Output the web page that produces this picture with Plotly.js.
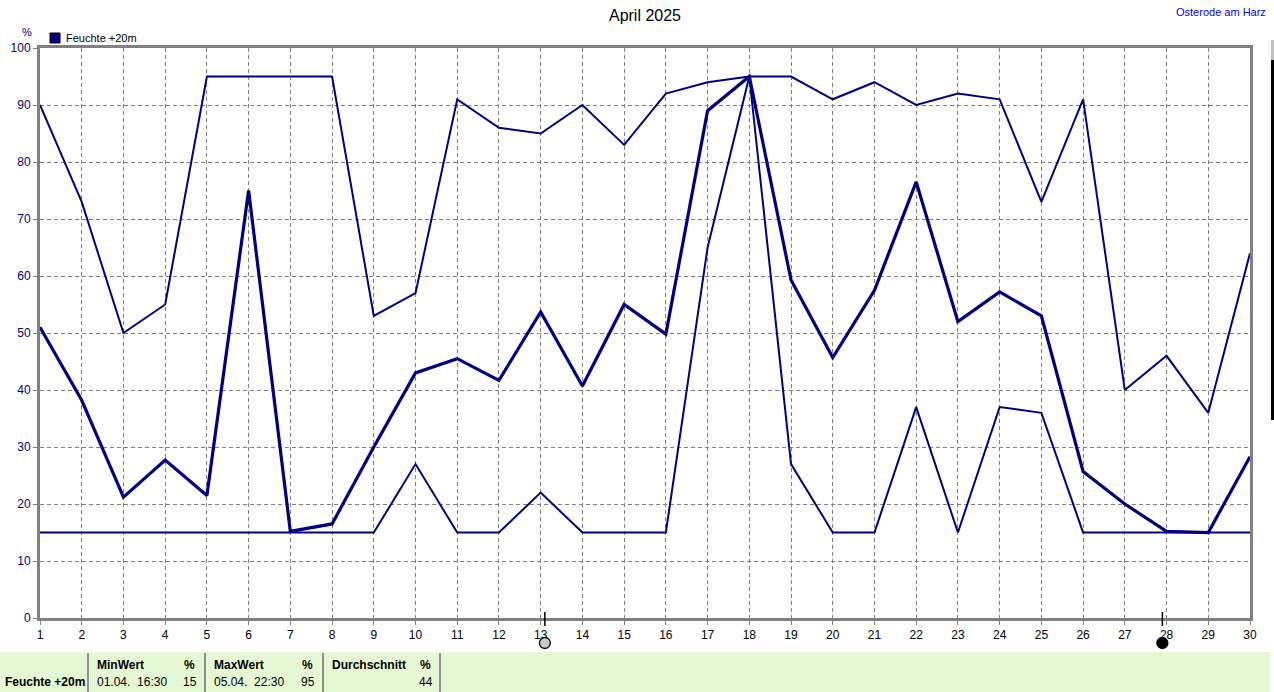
<!DOCTYPE html>
<html><head><meta charset="utf-8">
<script src="https://cdn.plot.ly/plotly-3.0.1.min.js"></script>
<style>html,body{margin:0;padding:0;background:#fff;}#chart{width:1274px;height:692px;}</style>
</head><body><div id="chart"></div>
<script>
const days = [1,2,3,4,5,6,7,8,9,10,11,12,13,14,15,16,17,18,19,20,21,22,23,24,25,26,27,28,29,30];
const maxVals = [90,73,50,55,95,95,95,95,53,57,91,86,85,90,83,92,94,95,95,91,94,90,92,91,73,91,40,46,36,64];
const meanVals = [51,38.2,21.2,27.7,21.5,75,15.2,16.5,30,43,45.5,41.7,53.7,40.7,55,49.8,89,95,59.3,45.7,57.5,76.5,52,57.2,53,25.7,20,15.2,15,28.3];
const minVals = [15,15,15,15,15,15,15,15,15,27,15,15,22,15,15,15,65,95,27,15,15,37,15,37,36,15,15,15,15,15];
const moonDays = [13.1, 27.9];
const moonFill = ['#c8c8c8', '#000000'];
const tableHeaders = ['MinWert', 'MaxWert', 'Durchschnitt'];
const tableUnits = ['%', '%', '%'];
const tableTimes = ['01.04.  16:30', '05.04.  22:30', ''];
const tableValues = ['15', '95', '44'];
const seriesName = 'Feuchte +20m';

const L = 40, R = 1250, T = 48, B = 618;
const px = x => (x - L) / (R - L);
const py = y => (B - y) / (B - T);
const navy = '#000080';
const font = 'Liberation Sans, Arial, sans-serif';

const traces = [
  {x: days, y: maxVals, mode: 'lines', line: {color: navy, width: 2}, showlegend: false, hoverinfo: 'skip'},
  {x: days, y: minVals, mode: 'lines', line: {color: navy, width: 2}, showlegend: false, hoverinfo: 'skip'},
  {x: days, y: meanVals, mode: 'lines', line: {color: navy, width: 3.2}, showlegend: false, hoverinfo: 'skip'}
];

const shapes = [];
const annotations = [];
moonDays.forEach((d, i) => {
  shapes.push({type: 'line', xref: 'x', yref: 'paper', x0: d, x1: d, y0: py(612), y1: py(626), line: {color: '#000', width: 1.5}});
  shapes.push({type: 'circle', xref: 'x', yref: 'paper', xsizemode: 'pixel', x0: -5.5, x1: 5.5, xanchor: d, y0: py(648.5), y1: py(637.5), fillcolor: moonFill[i], line: {color: '#000', width: 1.3}});
});
shapes.push({type: 'rect', xref: 'paper', yref: 'paper', x0: px(50), x1: px(60), y0: py(43), y1: py(33), fillcolor: navy, line: {color: '#000', width: 1}});
annotations.push({xref: 'paper', yref: 'paper', x: px(64), y: py(38), text: seriesName, showarrow: false, xanchor: 'left', yanchor: 'middle', font: {family: font, size: 11, color: '#000'}});
annotations.push({xref: 'paper', yref: 'paper', x: px(27), y: py(32), text: '%', showarrow: false, xanchor: 'center', yanchor: 'middle', font: {family: font, size: 11, color: navy}});
annotations.push({xref: 'paper', yref: 'paper', x: px(1268), y: py(12), text: 'Osterode am Harz', showarrow: false, xanchor: 'right', yanchor: 'middle', font: {family: font, size: 11, color: '#0000ff'}});
shapes.push({type: 'rect', xref: 'paper', yref: 'paper', x0: px(1271), x1: px(1274), y0: py(60), y1: py(40), fillcolor: '#c0c0c0', line: {width: 0}});
shapes.push({type: 'rect', xref: 'paper', yref: 'paper', x0: px(1271), x1: px(1274), y0: py(420), y1: py(60), fillcolor: '#000', line: {width: 0}});
shapes.push({type: 'rect', xref: 'paper', yref: 'paper', x0: px(0), x1: px(1270), y0: py(692), y1: py(652), fillcolor: '#e4f8d4', line: {width: 0}, layer: 'below'});
[88, 205, 323, 440].forEach(xx => shapes.push({type: 'line', xref: 'paper', yref: 'paper', x0: px(xx), x1: px(xx), y0: py(692), y1: py(653), line: {color: '#909090', width: 2}}));
annotations.push({xref: 'paper', yref: 'paper', x: px(87), y: py(682), text: '<b>' + seriesName + '</b>', showarrow: false, xanchor: 'right', yanchor: 'middle', font: {family: font, size: 12, color: '#000'}});
const colStart = [95, 212, 330];
const colEnd = [199, 317, 435];
tableHeaders.forEach((h, i) => {
  annotations.push({xref: 'paper', yref: 'paper', x: px(colStart[i]), y: py(665), text: '<b>' + h + '</b>', showarrow: false, xanchor: 'left', yanchor: 'middle', font: {family: font, size: 12, color: '#000'}});
  annotations.push({xref: 'paper', yref: 'paper', x: px(colEnd[i] - 2), y: py(665), text: '<b>' + tableUnits[i] + '</b>', showarrow: false, xanchor: 'right', yanchor: 'middle', font: {family: font, size: 12, color: '#000'}});
  if (tableTimes[i]) annotations.push({xref: 'paper', yref: 'paper', x: px(colStart[i]), y: py(682), text: tableTimes[i].replace(/ /g, '&nbsp;'), showarrow: false, xanchor: 'left', yanchor: 'middle', font: {family: font, size: 12, color: '#000'}});
  annotations.push({xref: 'paper', yref: 'paper', x: px(colEnd[i]), y: py(682), text: tableValues[i], showarrow: false, xanchor: 'right', yanchor: 'middle', font: {family: font, size: 12, color: '#000'}});
});

const layout = {
  width: 1274, height: 692,
  margin: {l: L, r: 1274 - R, t: T, b: 692 - B, pad: 0},
  paper_bgcolor: '#fff', plot_bgcolor: '#fff',
  title: {text: 'April 2025', x: 0.5, xref: 'paper', y: 1 - 15/692, yanchor: 'middle', font: {family: font, size: 16, color: '#000'}},
  xaxis: {range: [1, 30], tickmode: 'array', tickvals: days, ticktext: days.map(String), showgrid: true, gridcolor: '#808080', griddash: '4px,3px', gridwidth: 1,
          showline: true, mirror: true, linecolor: '#808080', linewidth: 3, ticks: 'outside', ticklen: 4, tickcolor: '#808080', zeroline: false,
          tickfont: {family: font, size: 12, color: '#000'}, fixedrange: true},
  yaxis: {range: [0, 100], tickmode: 'array', tickvals: [0,10,20,30,40,50,60,70,80,90,100], showgrid: true, gridcolor: '#808080', griddash: '4px,3px', gridwidth: 1,
          showline: true, mirror: true, linecolor: '#808080', linewidth: 3, ticks: 'outside', ticklen: 4, tickcolor: '#808080', zeroline: false,
          tickfont: {family: font, size: 12, color: navy}, fixedrange: true},
  shapes: shapes, annotations: annotations, showlegend: false
};
Plotly.newPlot('chart', traces, layout, {displayModeBar: false, staticPlot: true});
</script></body></html>
